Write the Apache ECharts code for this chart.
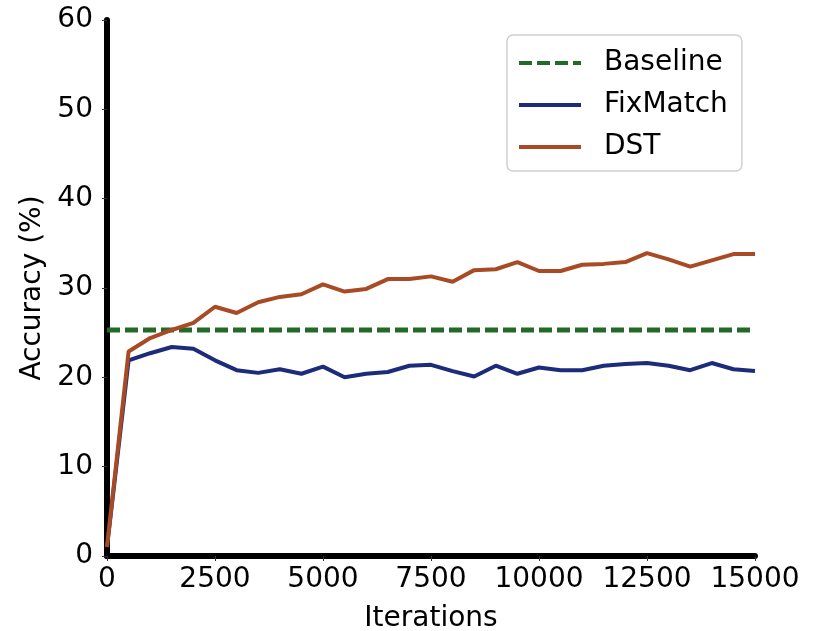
<!DOCTYPE html>
<html>
<head>
<meta charset="utf-8">
<script src="https://cdn.jsdelivr.net/npm/echarts@6/dist/echarts.min.js"></script>
<style>
  html, body { margin: 0; padding: 0; background: #fff; }
  #chart { width: 813px; height: 631px; }
</style>
</head>
<body>
<div id="chart"></div>
<script>
// iterations, every 500
const iterations = [
    0, 500, 1000, 1500, 2000, 2500, 3000, 3500, 4000, 4500,
    5000, 5500, 6000, 6500, 7000, 7500, 8000, 8500, 9000, 9500,
    10000, 10500, 11000, 11500, 12000, 12500, 13000, 13500, 14000, 14500,
    15000,
];
const fixMatch = [
    1.0, 21.9, 22.7, 23.4, 23.2, 21.9, 20.8, 20.5, 20.9, 20.4,
    21.2, 20.0, 20.4, 20.6, 21.3, 21.4, 20.7, 20.1, 21.3, 20.4,
    21.1, 20.8, 20.8, 21.3, 21.5, 21.6, 21.3, 20.8, 21.6, 20.9,
    20.7,
];
const dst = [
    1.0, 22.9, 24.4, 25.3, 26.1, 27.9, 27.2, 28.4, 29.0, 29.3,
    30.4, 29.6, 29.9, 31.0, 31.0, 31.3, 30.7, 32.0, 32.1, 32.9,
    31.9, 31.9, 32.6, 32.7, 32.9, 33.9, 33.2, 32.4, 33.1, 33.8,
    33.8,
];
const baselineX = [0, 15000];
const baselineY = [25.3, 25.3];
const xTicks = [0, 2500, 5000, 7500, 10000, 12500, 15000];
const yTicks = [0, 10, 20, 30, 40, 50, 60];

const font = "DejaVu Sans";
const zip = (xs, ys) => xs.map((x, i) => [x, ys[i]]);

const chart = echarts.init(document.getElementById("chart"));

chart.setOption({
    animation: false,
    textStyle: { fontFamily: font },
    grid: { left: 107, right: 58, top: 20, bottom: 75, outerBoundsMode: "none", containLabel: false },
    legend: {
        orient: "vertical",
        left: 507,
        top: 35,
        padding: [14, 14, 10, 10],
        itemGap: 14,
        itemWidth: 62,
        itemHeight: 14,
        backgroundColor: "#fff",
        borderColor: "#d0d0d0",
        borderWidth: 1.5,
        borderRadius: 6,
        itemStyle: { opacity: 0 },
        lineStyle: { width: 4 },
        textStyle: {
            fontFamily: font,
            fontSize: 28,
            color: "#000",
            padding: [0, 0, 0, 18],
        },
        data: ["Baseline", "FixMatch", "DST"],
    },
    xAxis: {
        type: "value",
        min: xTicks[0],
        max: xTicks[xTicks.length - 1],
        interval: 2500,
        name: "Iterations",
        nameLocation: "middle",
        nameGap: 49,
        nameTextStyle: { fontFamily: font, fontSize: 28, color: "#000" },
        axisLine: { lineStyle: { color: "#000", width: 6 } },
        axisTick: { length: 5, lineStyle: { color: "#333", width: 1 } },
        axisLabel: {
            fontFamily: font, fontSize: 28, color: "#000", margin: 10,
            formatter: (v) => String(v),
        },
        splitLine: { show: false },
    },
    yAxis: {
        type: "value",
        min: yTicks[0],
        max: yTicks[yTicks.length - 1],
        interval: 10,
        name: "Accuracy (%)",
        nameLocation: "middle",
        nameGap: 59,
        nameTextStyle: { fontFamily: font, fontSize: 28, color: "#000" },
        axisLine: { lineStyle: { color: "#000", width: 6 } },
        axisTick: { length: 5, lineStyle: { color: "#333", width: 1 } },
        axisLabel: { fontFamily: font, fontSize: 28, color: "#000", margin: 14 },
        splitLine: { show: false },
    },
    series: [
        {
            name: "Baseline",
            type: "line",
            data: zip(baselineX, baselineY),
            symbol: "none",
            color: "#22692a",
            lineStyle: { width: 5, type: [13, 5], color: "#22692a" },
        },
        {
            name: "FixMatch",
            type: "line",
            data: zip(iterations, fixMatch),
            symbol: "none",
            color: "#1c2b7a",
            lineStyle: { width: 4, color: "#1c2b7a" },
        },
        {
            name: "DST",
            type: "line",
            data: zip(iterations, dst),
            symbol: "none",
            color: "#a84b25",
            lineStyle: { width: 4, color: "#a84b25" },
        },
    ],
});
</script>
</body>
</html>
